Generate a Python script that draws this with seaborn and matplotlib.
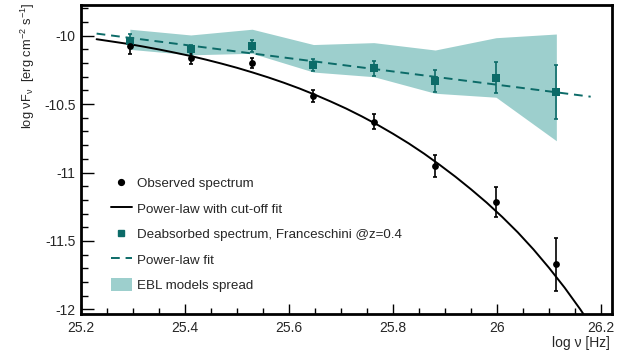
import numpy as np
import pandas as pd
import matplotlib
matplotlib.use("Agg")
import matplotlib.pyplot as plt
import seaborn as sns
from matplotlib.lines import Line2D
from matplotlib.patches import Patch
from matplotlib.ticker import MultipleLocator, FixedLocator

# ---------------- data ----------------
log_nu = [25.294, 25.411, 25.529, 25.647, 25.763, 25.881, 25.998, 26.114]

obs_y = [-10.075, -10.165, -10.200, -10.440, -10.628, -10.950, -11.218, -11.671]
obs_err = [0.060, 0.045, 0.040, 0.045, 0.056, 0.080, 0.110, 0.195]

deab_y = [-10.036, -10.100, -10.075, -10.214, -10.238, -10.329, -10.307, -10.409]
deab_err = [0.045, 0.033, 0.045, 0.042, 0.056, 0.080, 0.112, 0.197]

ebl_upper = [-9.953, -9.995, -9.953, -10.065, -10.051, -10.105, -10.015, -9.988]
ebl_lower = [-10.100, -10.140, -10.129, -10.266, -10.300, -10.421, -10.450, -10.768]

cutoff_x = [25.23, 25.26, 25.29, 25.32, 25.35, 25.38, 25.41, 25.44, 25.47,
            25.50, 25.53, 25.56, 25.59, 25.62, 25.65, 25.68, 25.71, 25.74,
            25.77, 25.80, 25.83, 25.86, 25.89, 25.92, 25.95, 25.98, 26.01,
            26.04, 26.07, 26.10, 26.13, 26.16, 26.19]
cutoff_y = [-10.026, -10.043, -10.060, -10.080, -10.101, -10.124, -10.148,
            -10.175, -10.204, -10.235, -10.269, -10.305, -10.344, -10.386,
            -10.432, -10.481, -10.533, -10.590, -10.651, -10.717, -10.787,
            -10.863, -10.945, -11.031, -11.123, -11.220, -11.325, -11.438,
            -11.562, -11.697, -11.842, -12.000, -12.170]

pl_x = [25.23, 26.18]
pl_y = [-9.985, -10.446]

labels = ["Observed spectrum", "Power-law with cut-off fit",
          "Deabsorbed spectrum, Franceschini @z=0.4", "Power-law fit",
          "EBL models spread"]

# ---------------- style ----------------
sns.set_theme(style="ticks")
plt.rcParams["font.family"] = ["Liberation Sans", "DejaVu Sans"]
plt.rcParams["mathtext.fontset"] = "custom"
plt.rcParams["mathtext.rm"] = "Liberation Sans"
plt.rcParams["mathtext.it"] = "Liberation Sans"

TEAL = "#0c6b68"
BAND = "#9dcfcd"

fig = plt.figure(figsize=(6.21, 3.56), dpi=100)
ax = fig.add_axes([81 / 621, 42 / 356, 531 / 621, 309 / 356])

df_band = pd.DataFrame({"x": log_nu, "lo": ebl_lower, "hi": ebl_upper})
ax.fill_between(df_band["x"], df_band["lo"], df_band["hi"], color=BAND,
                linewidth=0, zorder=1)

df_pl = pd.DataFrame({"x": pl_x, "y": pl_y})
sns.lineplot(data=df_pl, x="x", y="y", ax=ax, color=TEAL, linewidth=1.4,
             dashes=False, zorder=2, sort=False)
ax.lines[-1].set_dashes([4.5, 3])

df_cut = pd.DataFrame({"x": cutoff_x, "y": cutoff_y})
sns.lineplot(data=df_cut, x="x", y="y", ax=ax, color="black", linewidth=1.4,
             zorder=3, sort=False)

ax.errorbar(log_nu, deab_y, yerr=deab_err, fmt="none", ecolor=TEAL,
            elinewidth=1.2, capsize=1.6, capthick=1.2, zorder=4)
ax.errorbar(log_nu, obs_y, yerr=obs_err, fmt="none", ecolor="black",
            elinewidth=1.2, capsize=1.6, capthick=1.2, zorder=5)

df_pts = pd.DataFrame({"x": log_nu, "obs": obs_y, "deab": deab_y})
sns.scatterplot(data=df_pts, x="x", y="deab", ax=ax, marker="s", s=26,
                color=TEAL, edgecolor=TEAL, linewidth=0, zorder=6)
sns.scatterplot(data=df_pts, x="x", y="obs", ax=ax, marker="o", s=24,
                color="black", edgecolor="black", linewidth=0, zorder=7)

ax.set_xlim(25.2, 26.221)
ax.set_ylim(-12.034, -9.776)

ax.xaxis.set_major_locator(FixedLocator([25.2, 25.4, 25.6, 25.8, 26.0, 26.2]))
ax.xaxis.set_minor_locator(MultipleLocator(0.05))
ax.yaxis.set_major_locator(FixedLocator([-12, -11.5, -11, -10.5, -10]))
ax.yaxis.set_minor_locator(MultipleLocator(0.1))
ax.set_xticklabels(["25.2", "25.4", "25.6", "25.8", "26", "26.2"])
ax.set_yticklabels(["-12", "-11.5", "-11", "-10.5", "-10"])

ax.tick_params(axis="x", which="major", direction="in", length=7, width=1,
               labelsize=10, pad=5, color="black", top=False)
ax.tick_params(axis="x", which="minor", direction="in", length=4, width=1,
               color="black", top=False)
ax.tick_params(axis="y", which="major", direction="in", length=9.5, width=1,
               labelsize=10, pad=4, color="black", right=False)
ax.tick_params(axis="y", which="minor", direction="in", length=5, width=1,
               color="black", right=False)

for sp in ax.spines.values():
    sp.set_linewidth(2.0)
    sp.set_color("black")
    sp.set_visible(True)

ax.set_xlabel("")
ax.set_ylabel("")

fig.text(28 / 621, 1 - 3 / 356,
         "log ν" + r"F$_{\mathrm{ν}}$  [erg cm$^{-2}$ s$^{-1}$]",
         rotation=90, ha="center", va="top", fontsize=9.3)
fig.text(610 / 621, (356 - 343.5) / 356, "log ν [Hz]",
         ha="right", va="center", fontsize=10)

handles = [
    Line2D([], [], marker="o", color="black", linestyle="none", markersize=4.2),
    Line2D([], [], color="black", linewidth=1.4),
    Line2D([], [], marker="s", color=TEAL, linestyle="none", markersize=4.2),
    Line2D([], [], color=TEAL, linewidth=1.4, dashes=[4.5, 3]),
    Patch(facecolor=BAND, edgecolor="none"),
]
leg = ax.legend(handles, labels, loc="upper left",
                bbox_to_anchor=(111 / 621, (356 - 176) / 356),
                bbox_transform=fig.transFigure, frameon=False, fontsize=9.6,
                handlelength=1.55, handleheight=1.15, handletextpad=0.4,
                labelspacing=0.85, borderpad=0, borderaxespad=0)

fig.savefig("out.png", dpi=100)
